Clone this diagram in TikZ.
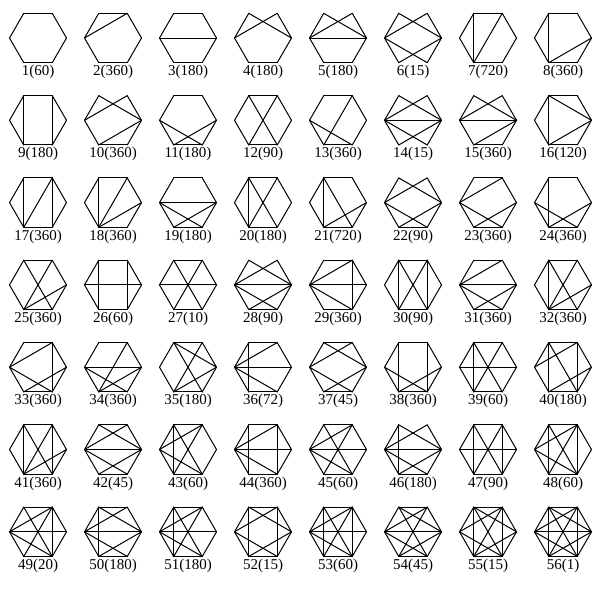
\documentclass[tikz,border=0pt]{standalone}
\usepackage{fontspec}
\setmainfont{Liberation Serif}
\usetikzlibrary{calc}

% #1 number, #2 count, #3 edges (0 = E, 1 = NE, 2 = NW, 3 = W, 4 = SW, 5 = SE)
\newcommand{\hexg}[3]{%
  \pgfmathsetmacro\hcx{38+75*mod(#1-1,8)}%
  \pgfmathsetmacro\hcy{-38-82.3*floor((#1-1)/8)}%
  \coordinate (h#1) at (\hcx,\hcy);
  \foreach \k in {0,...,5}
    \coordinate (h#1-\k) at ($(h#1)+({\k*60}:28.5)$);
  \foreach \a/\b in {#3}
    \draw[hx] (h#1-\a) -- (h#1-\b);
  \node[lab] (t#1) at ($(h#1)+(0,-27)$) {#1(#2)};
}

\begin{document}
\begin{tikzpicture}[x=1pt, y=1pt,
    hx/.style={line width=1pt, line cap=round},
    lab/.style={anchor=north, inner sep=0pt, font=\fontsize{15}{15}\selectfont}]
  \useasboundingbox (0,0) rectangle (592,-600);
  % row 1
  \hexg{1}{60}{0/1,1/2,2/3,3/4,4/5,5/0}
  \hexg{2}{360}{0/1,1/2,2/3,3/4,4/5,5/0,1/3}
  \hexg{3}{180}{0/1,1/2,2/3,3/4,4/5,5/0,0/3}
  \hexg{4}{180}{0/1,2/3,3/4,4/5,5/0,1/3,0/2}
  \hexg{5}{180}{0/1,2/3,3/4,4/5,5/0,1/3,0/2,0/3}
  \hexg{6}{15}{0/1,2/3,3/4,5/0,1/3,0/2,3/5,0/4}
  \hexg{7}{720}{0/1,1/2,2/3,3/4,4/5,5/0,2/4,1/4}
  \hexg{8}{360}{0/1,1/2,2/3,3/4,4/5,5/0,2/4,0/4}
  % row 2
  \hexg{9}{180}{0/1,1/2,2/3,3/4,4/5,5/0,2/4,1/5}
  \hexg{10}{360}{0/1,2/3,3/4,4/5,5/0,1/3,0/2,0/4}
  \hexg{11}{180}{0/1,1/2,2/3,3/4,4/5,5/0,3/5,0/4}
  \hexg{12}{90}{0/1,1/2,2/3,3/4,4/5,5/0,1/4,2/5}
  \hexg{13}{360}{0/1,1/2,2/3,3/4,4/5,5/0,1/4,3/5}
  \hexg{14}{15}{0/1,2/3,3/4,5/0,1/3,0/2,0/3,3/5,0/4}
  \hexg{15}{360}{0/1,2/3,3/4,4/5,5/0,1/3,0/2,0/3,0/4}
  \hexg{16}{120}{0/1,1/2,2/3,3/4,4/5,5/0,2/4,0/2,0/4}
  % row 3
  \hexg{17}{360}{0/1,1/2,2/3,3/4,4/5,5/0,2/4,1/5,1/4}
  \hexg{18}{360}{0/1,1/2,2/3,3/4,4/5,5/0,2/4,1/4,0/4}
  \hexg{19}{180}{0/1,1/2,2/3,3/4,4/5,5/0,0/3,3/5,0/4}
  \hexg{20}{180}{0/1,1/2,2/3,3/4,4/5,5/0,2/4,1/4,2/5}
  \hexg{21}{720}{0/1,1/2,2/3,3/4,4/5,5/0,2/4,2/5,0/4}
  \hexg{22}{90}{0/1,2/3,3/4,4/5,5/0,1/3,0/2,3/5,0/4}
  \hexg{23}{360}{0/1,1/2,2/3,3/4,4/5,5/0,1/3,3/5,0/4}
  \hexg{24}{360}{0/1,1/2,2/3,3/4,4/5,5/0,2/4,3/5,0/4}
  % row 4
  \hexg{25}{360}{0/1,1/2,2/3,3/4,4/5,5/0,1/4,2/5,0/4}
  \hexg{26}{60}{0/1,1/2,2/3,3/4,4/5,5/0,2/4,1/5,0/3}
  \hexg{27}{10}{0/1,1/2,2/3,3/4,4/5,5/0,0/3,1/4,2/5}
  \hexg{28}{90}{0/1,2/3,3/4,4/5,5/0,1/3,0/2,0/3,3/5,0/4}
  \hexg{29}{360}{0/1,1/2,2/3,3/4,4/5,5/0,1/3,0/3,3/5,1/5}
  \hexg{30}{90}{0/1,1/2,2/3,3/4,4/5,5/0,2/4,1/5,1/4,2/5}
  \hexg{31}{360}{0/1,1/2,2/3,3/4,4/5,5/0,1/3,0/3,3/5,0/4}
  \hexg{32}{360}{0/1,1/2,2/3,3/4,4/5,5/0,2/4,2/5,1/4,0/4}
  % row 5
  \hexg{33}{360}{0/1,1/2,2/3,3/4,4/5,5/0,1/3,1/5,3/5,0/4}
  \hexg{34}{360}{0/1,1/2,2/3,3/4,4/5,5/0,0/3,1/4,3/5,0/4}
  \hexg{35}{180}{0/1,1/2,2/3,3/4,4/5,5/0,2/5,1/4,0/2,0/4}
  \hexg{36}{72}{0/1,1/2,2/3,3/4,4/5,5/0,2/4,1/3,0/3,3/5}
  \hexg{37}{45}{0/1,1/2,2/3,3/4,4/5,5/0,1/3,0/2,3/5,0/4}
  \hexg{38}{360}{0/1,1/2,2/3,3/4,4/5,5/0,2/4,1/5,3/5,0/4}
  \hexg{39}{60}{0/1,1/2,2/3,3/4,4/5,5/0,2/4,0/3,1/4,2/5}
  \hexg{40}{180}{0/1,1/2,2/3,3/4,4/5,5/0,2/4,1/5,2/5,1/3,0/4}
  % row 6
  \hexg{41}{360}{0/1,1/2,2/3,3/4,4/5,5/0,2/4,1/5,2/5,1/4,0/4}
  \hexg{42}{45}{0/1,1/2,2/3,3/4,4/5,5/0,1/3,0/2,0/3,3/5,0/4}
  \hexg{43}{60}{0/1,1/2,2/3,3/4,4/5,5/0,2/4,1/3,2/5,1/4,3/5}
  \hexg{44}{360}{0/1,1/2,2/3,3/4,4/5,5/0,2/4,1/3,0/3,3/5,1/5}
  \hexg{45}{60}{0/1,1/2,2/3,3/4,4/5,5/0,1/3,3/5,0/3,1/4,2/5}
  \hexg{46}{180}{0/1,2/3,3/4,4/5,5/0,2/4,1/3,0/2,0/3,3/5,0/4}
  \hexg{47}{90}{0/1,1/2,2/3,3/4,4/5,5/0,2/4,1/5,1/4,2/5,0/3}
  \hexg{48}{60}{0/1,1/2,2/3,3/4,4/5,5/0,1/3,2/4,3/5,1/4,1/5,2/5}
  % row 7
  \hexg{49}{20}{0/1,1/2,2/3,3/4,4/5,5/0,1/3,3/5,1/5,0/3,1/4,2/5}
  \hexg{50}{180}{0/1,1/2,2/3,3/4,4/5,5/0,2/4,1/3,0/2,0/3,3/5,0/4}
  \hexg{51}{180}{0/1,1/2,2/3,3/4,4/5,5/0,1/3,2/4,3/5,1/4,2/5,0/3}
  \hexg{52}{15}{0/1,1/2,2/3,3/4,4/5,5/0,2/4,1/5,1/3,0/2,3/5,0/4}
  \hexg{53}{60}{0/1,1/2,2/3,3/4,4/5,5/0,1/3,2/4,3/5,1/5,0/3,1/4,2/5}
  \hexg{54}{45}{0/1,1/2,2/3,3/4,4/5,5/0,1/3,0/2,3/5,0/4,0/3,1/4,2/5}
  \hexg{55}{15}{0/1,1/2,2/3,3/4,4/5,5/0,2/4,1/5,1/3,0/2,3/5,0/4,1/4,2/5}
  \hexg{56}{1}{0/1,1/2,2/3,3/4,4/5,5/0,0/2,1/3,2/4,3/5,0/4,1/5,0/3,1/4,2/5}
\end{tikzpicture}
\end{document}
